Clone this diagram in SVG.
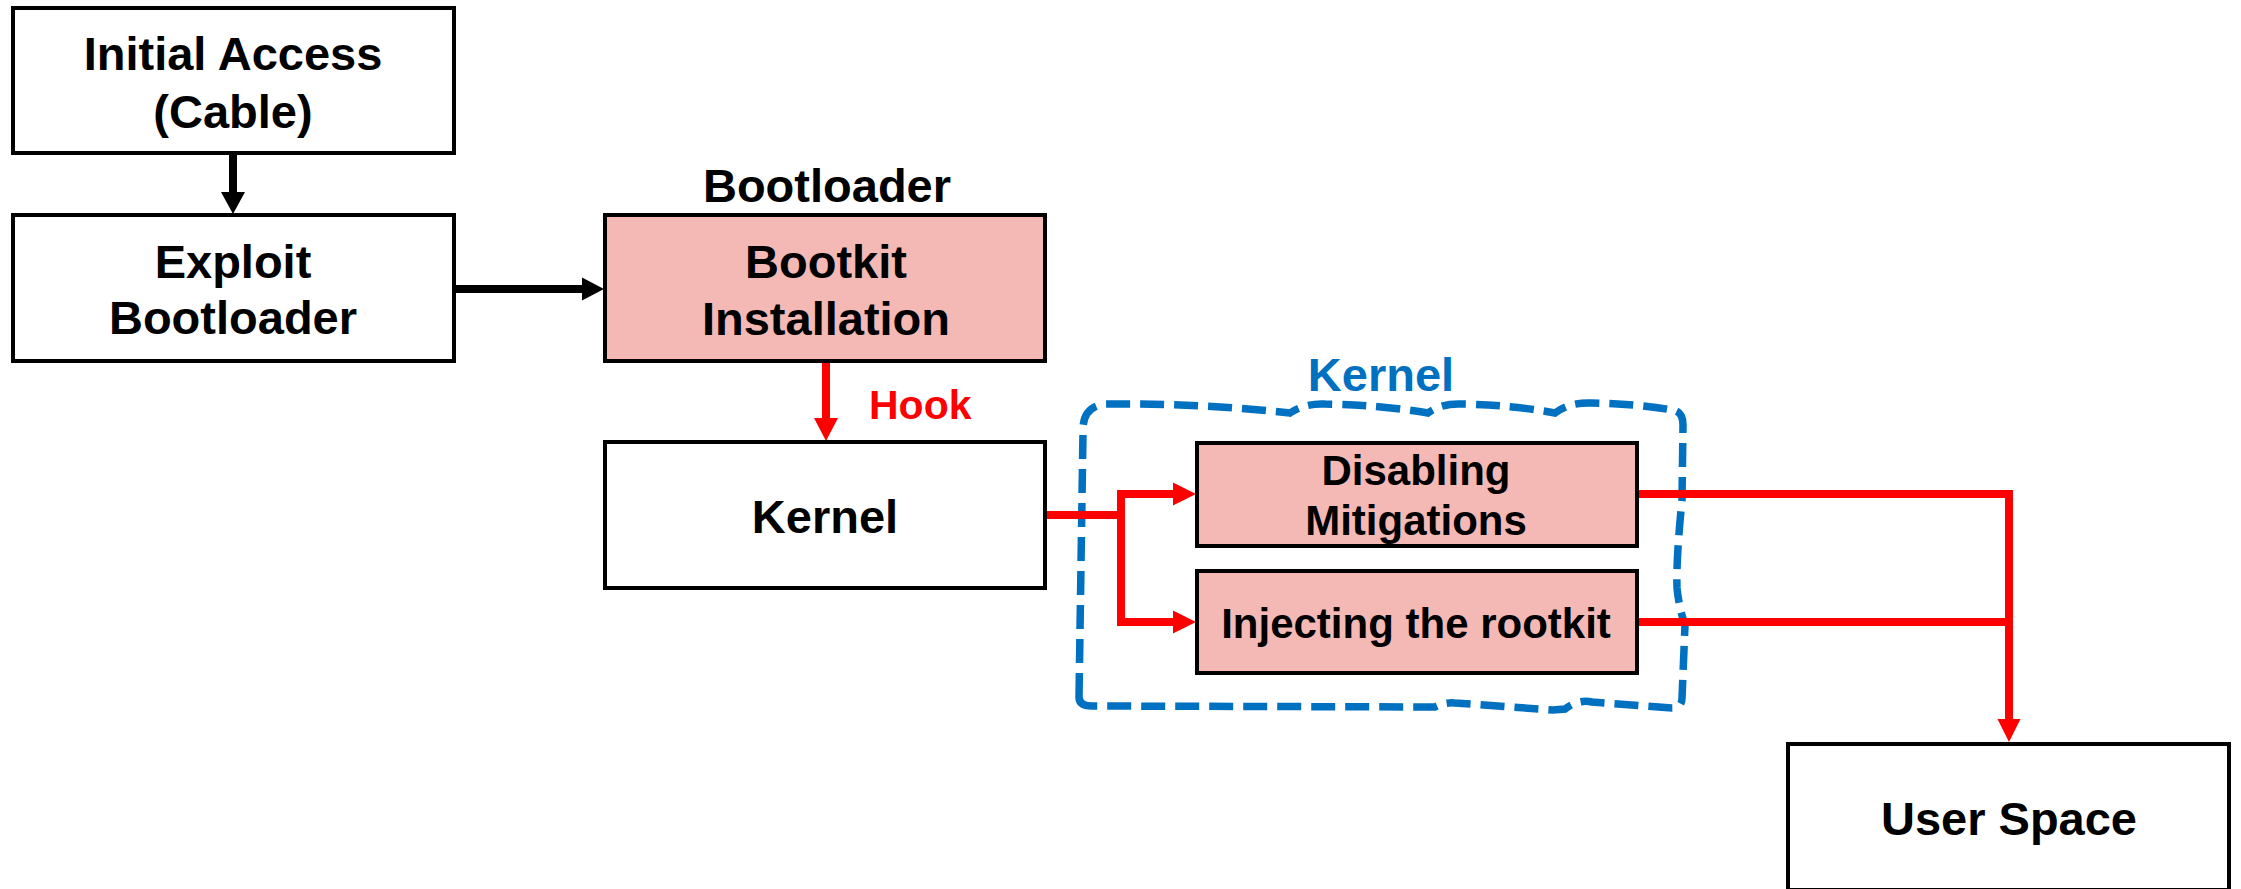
<svg xmlns="http://www.w3.org/2000/svg" width="2241" height="889" viewBox="0 0 2241 889">
<style>
.box{fill:#FFFFFF;stroke:#000000;stroke-width:4}
.pink{fill:#F4B9B5;stroke:#000000;stroke-width:4}
.t{font-family:"Liberation Sans",Arial,sans-serif;font-weight:bold;fill:#000000;text-anchor:middle}
.t47{font-size:47px}
.t42{font-size:42px}
.blk{fill:none;stroke:#000000;stroke-width:8}
.red{fill:none;stroke:#FF0000;stroke-width:8;stroke-linejoin:miter}
.bh{fill:#000000}
.rh{fill:#FF0000}
</style>
<rect width="2241" height="889" fill="#FFFFFF"/>
<g id="kernel-region">
<path d="M1079 697 L1083 432 Q1082 406 1106 404 Q1200 403 1290 413 Q1305 403 1325 404 Q1380 405 1428 413 Q1442 403 1462 404 Q1512 405 1555 413 Q1570 402 1592 403 Q1640 404 1672 410 Q1683 411 1683 425 L1682 500 Q1676 560 1677 588 Q1679 608 1685 625 L1682 698 Q1682 708 1672 708 L1592 702 Q1578 699 1565 709 L1553 710 L1455 703 Q1445 702 1435 707 L1092 706 Q1079 706 1079 697 Z" fill="none" stroke="#0070C0" stroke-width="7.5" stroke-dasharray="24 10"/>
<text class="t t47" x="1381" y="391" style="fill:#0070C0">Kernel</text>
</g>
<g id="connectors">
<line class="blk" x1="233" y1="153" x2="233" y2="194"/>
<polygon class="bh" points="221,192 245,192 233,214"/>
<line class="blk" x1="455" y1="289" x2="584" y2="289"/>
<polygon class="bh" points="582,277.5 582,300.5 604,289"/>
<line class="red" x1="826" y1="363" x2="826" y2="420"/>
<polygon class="rh" points="814,418 838,418 826,441"/>
<line class="red" x1="1047" y1="515" x2="1121" y2="515"/>
<path class="red" d="M1175 494 H1121 V622 H1175"/>
<polygon class="rh" points="1173,482.5 1173,505.5 1196,494"/>
<polygon class="rh" points="1173,610.5 1173,633.5 1196,622"/>
<path class="red" d="M1638 494 H2009 V721"/>
<line class="red" x1="1638" y1="622" x2="2009" y2="622"/>
<polygon class="rh" points="1997.5,719 2020.5,719 2009,742"/>
</g>
<g id="initial-access">
<rect class="box" x="13" y="8" width="441" height="145"/>
<text class="t t47" x="233" y="70">Initial Access</text>
<text class="t t47" x="233" y="128">(Cable)</text>
</g>
<g id="exploit-bootloader">
<rect class="box" x="13" y="215" width="441" height="146"/>
<text class="t t47" x="233" y="278">Exploit</text>
<text class="t t47" x="233" y="334">Bootloader</text>
</g>
<g id="bootkit-installation">
<text class="t t47" x="827" y="202">Bootloader</text>
<rect class="pink" x="605" y="215" width="440" height="146"/>
<text class="t t47" x="826" y="278">Bootkit</text>
<text class="t t47" x="826" y="335">Installation</text>
</g>
<g id="hook-label">
<text class="t" x="869" y="419" style="font-size:41px;fill:#FF0000;text-anchor:start">Hook</text>
</g>
<g id="kernel">
<rect class="box" x="605" y="442" width="440" height="146"/>
<text class="t t47" x="825" y="533">Kernel</text>
</g>
<g id="disabling-mitigations">
<rect class="pink" x="1197" y="443" width="440" height="103"/>
<text class="t t42" x="1416" y="485">Disabling</text>
<text class="t t42" x="1416" y="535">Mitigations</text>
</g>
<g id="injecting-rootkit">
<rect class="pink" x="1197" y="571" width="440" height="102"/>
<text class="t t42" x="1416" y="638">Injecting the rootkit</text>
</g>
<g id="user-space">
<rect class="box" x="1788" y="744" width="441" height="146"/>
<text class="t t47" x="2009" y="835">User Space</text>
</g>
</svg>
